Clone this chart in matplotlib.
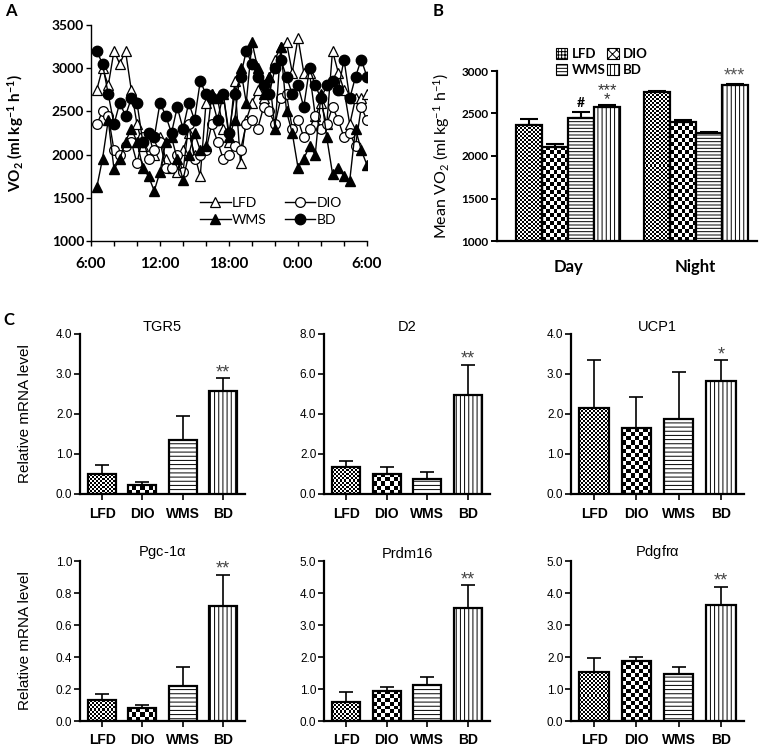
import numpy as np
import matplotlib
matplotlib.use('Agg')
import matplotlib.pyplot as plt
from matplotlib.patches import Patch
from matplotlib.lines import Line2D

plt.rcParams['mathtext.default'] = 'regular'
plt.rcParams['hatch.linewidth'] = 0.7

# ---------------- Panel A data (VO2 time course, hours after 6:00) ----------------
hours = np.arange(0.5, 24.01, 0.5)
vo2_lfd = [2750, 3000, 2800, 3200, 3050, 3200, 2750, 2350, 2100, 2250, 2000, 2200,
           1950, 1850, 1800, 2050, 2250, 2000, 1750, 2600, 2700, 2650, 2300, 2150,
           2850, 1900, 2400, 2600, 2750, 2650, 2900, 3100, 3250, 3300, 2950, 3350,
           2950, 2950, 2450, 2600, 2350, 3200, 2950, 2750, 2350, 2650, 2650, 2700]
vo2_dio = [2350, 2500, 2450, 2050, 2000, 2100, 2150, 1900, 2200, 1950, 2050, 2150,
           1850, 1850, 2000, 1800, 2350, 1950, 2000, 2050, 2350, 2150, 1950, 2000,
           2100, 2050, 2350, 2400, 2300, 2550, 2500, 2350, 2650, 2700, 2300, 2400,
           2200, 2300, 2450, 2300, 2350, 2550, 2400, 2200, 2250, 2100, 2550, 2400]
vo2_wms = [1620, 1950, 2400, 1830, 1950, 2150, 2300, 2150, 1850, 1750, 1580, 1800,
           2150, 2200, 1950, 1710, 2000, 2250, 2050, 2100, 2700, 2650, 2700, 2200,
           2400, 3000, 2600, 3300, 3000, 2700, 2900, 2300, 3250, 2500, 2250, 1850,
           1950, 2100, 2000, 2700, 2200, 1780, 1850, 1750, 1700, 2300, 2050, 1880]
vo2_bd = [3200, 3050, 2700, 2350, 2600, 2450, 2650, 2600, 2150, 2250, 2200, 2600,
          2450, 2250, 2550, 2300, 2600, 2400, 2850, 2700, 2650, 2400, 2700, 2250,
          2700, 2900, 3200, 3050, 2900, 2800, 2700, 3000, 3100, 2900, 2700, 2800,
          2550, 3000, 2800, 2650, 2800, 2850, 2750, 3100, 2650, 2900, 3100, 2900]
time_tick_hours = [0, 6, 12, 18, 24]
time_tick_labels = ['6:00', '12:00', '18:00', '0:00', '6:00']

# ---------------- Panel B data ----------------
groups = ['LFD', 'DIO', 'WMS', 'BD']
periods = ['Day', 'Night']
mean_day = [2360, 2110, 2450, 2580]
sem_day = [70, 30, 70, 25]
mean_night = [2750, 2400, 2275, 2830]
sem_night = [15, 20, 10, 15]

# ---------------- Panel C data ----------------
genes = ['TGR5', 'D2', 'UCP1', 'Pgc-1$\\alpha$', 'Prdm16', 'Pdgfr$\\alpha$']
tgr5_mean = [0.50, 0.22, 1.35, 2.58]
tgr5_sem = [0.22, 0.07, 0.61, 0.31]
d2_mean = [1.34, 1.01, 0.73, 4.95]
d2_sem = [0.33, 0.33, 0.36, 1.52]
ucp1_mean = [2.14, 1.65, 1.88, 2.82]
ucp1_sem = [1.21, 0.78, 1.17, 0.52]
pgc_mean = [0.13, 0.081, 0.218, 0.72]
pgc_sem = [0.036, 0.017, 0.122, 0.193]
prdm_mean = [0.59, 0.95, 1.14, 3.54]
prdm_sem = [0.33, 0.10, 0.22, 0.70]
pdgf_mean = [1.52, 1.87, 1.48, 3.64]
pdgf_sem = [0.45, 0.13, 0.20, 0.55]
gene_ymax = [4.0, 8.0, 4.0, 1.0, 5.0, 5.0]
gene_ystep = [1.0, 2.0, 1.0, 0.2, 1.0, 1.0]
gene_stars = ['**', '**', '*', '**', '**', '**']

W, H = 760, 746
fig = plt.figure(figsize=(W / 100, H / 100), dpi=100)

FA = 'Lato'
FC = 'Liberation Sans'


def px_axes(l, t, r, b):
    return fig.add_axes([l / W, 1 - b / H, (r - l) / W, (b - t) / H])


def texture(ax, bar, cell):
    x0, y0 = bar.get_x(), bar.get_y()
    w, h = bar.get_width(), bar.get_height()
    p0 = ax.transData.transform((x0, y0))
    p1 = ax.transData.transform((x0 + w, y0 + h))
    nx = max(1, int(round(abs(p1[0] - p0[0]) / cell)))
    ny = max(1, int(round(abs(p1[1] - p0[1]) / cell)))
    img = np.indices((ny, nx)).sum(axis=0) % 2
    im = ax.imshow(img, extent=(x0, x0 + w, y0, y0 + h), cmap='gray',
                   interpolation='nearest', aspect='auto', origin='lower',
                   vmin=0, vmax=1, zorder=2.5)
    im.set_clip_path(bar)


def style_bars(ax, bars, cells, hatches, lw):
    for k, b in enumerate(bars):
        b.set_facecolor('white')
        if cells[k]:
            texture(ax, b, cells[k])
            b.set_facecolor('none')
        else:
            b.set_hatch(hatches[k])
        b.set_edgecolor('black')
        b.set_linewidth(lw)
        b.set_zorder(3)


# ====================== Panel A ======================
axA = px_axes(91, 25, 367, 241)
lA1, = axA.plot(hours, vo2_lfd, '-^', color='black', mfc='white', mec='black', ms=7, lw=1, mew=0.9)
lA2, = axA.plot(hours, vo2_dio, '-o', color='black', mfc='white', mec='black', ms=7, lw=1, mew=0.9)
lA3, = axA.plot(hours, vo2_wms, '-^', color='black', mfc='black', ms=7, lw=1)
lA4, = axA.plot(hours, vo2_bd, '-o', color='black', mfc='black', ms=7.5, lw=1)
axA.set_xlim(0, 24)
axA.set_ylim(1000, 3500)
axA.set_yticks(np.arange(1000, 3501, 500))
axA.set_xticks(np.arange(0, 24.1, 2))
axA.set_xticklabels([time_tick_labels[time_tick_hours.index(t)] if t in time_tick_hours else ''
                     for t in np.arange(0, 24.1, 2)])
for s in ['top', 'right']:
    axA.spines[s].set_visible(False)
for s in ['left', 'bottom']:
    axA.spines[s].set_linewidth(1.0)
axA.tick_params(axis='both', direction='out', length=3.5, width=1.0)
axA.tick_params(axis='x', pad=8)
axA.tick_params(axis='y', pad=1.5)
for t in axA.get_xticklabels():
    t.set_fontfamily(FA); t.set_fontweight('bold'); t.set_fontsize(11)
for t in axA.get_yticklabels():
    t.set_fontfamily(FA); t.set_fontweight('bold'); t.set_fontsize(10)
axA.set_ylabel('VO$_2$ (ml kg$^{-1}$ h$^{-1}$)', fontfamily=FA, fontweight='bold', fontsize=11)
axA.yaxis.set_label_coords(-0.235, 0.5)
axA.legend([lA1, lA3, lA2, lA4], ['LFD', 'WMS', 'DIO', 'BD'], ncol=2, loc='upper left',
           bbox_to_anchor=(0.37, 0.235), frameon=False,
           prop={'family': FA, 'size': 10}, handlelength=2.2, handletextpad=0.1,
           columnspacing=1.3, labelspacing=0.35, borderpad=0)

# ====================== Panel B ======================
axB = px_axes(497, 71, 757, 241)
axB.set_xlim(-0.557, 1.48)
axB.set_ylim(1000, 3000)
bw = 0.204
offs = [-1.5 * bw, -0.5 * bw, 0.5 * bw, 1.5 * bw]
cellsB = [2, 4, 0, 0]
hatchB = [None, None, '-----', '||||']
legend_hatch = ['+++++', 'xxxx', '-----', '||||']
for gi in range(4):
    xs = [pi + offs[gi] for pi in range(2)]
    vals = [mean_day[gi], mean_night[gi]]
    errs = [sem_day[gi], sem_night[gi]]
    bars = axB.bar(xs, [v - 1000 for v in vals], width=bw, bottom=1000, align='center')
    style_bars(axB, bars, [cellsB[gi]] * 2, [hatchB[gi]] * 2, 1.6)
    axB.errorbar(xs, vals, yerr=[[0, 0], errs], fmt='none', ecolor='black',
                 elinewidth=1.5, capsize=6.5, capthick=1.5, zorder=4)
axB.set_xticks([0, 1])
axB.set_xticklabels(periods, fontfamily=FA, fontweight='bold', fontsize=12)
axB.set_yticks(np.arange(1000, 3001, 500))
for t in axB.get_yticklabels():
    t.set_fontfamily(FA); t.set_fontweight('bold'); t.set_fontsize(8.5)
for s in ['top', 'right']:
    axB.spines[s].set_visible(False)
for s in ['left', 'bottom']:
    axB.spines[s].set_linewidth(1.6)
axB.tick_params(axis='x', length=0, pad=13)
axB.tick_params(axis='y', direction='out', length=4, width=1.4, pad=2)
axB.set_ylabel('Mean VO$_2$ (ml kg$^{-1}$ h$^{-1}$)', fontfamily=FA, fontsize=11.5)
axB.yaxis.set_label_coords(-0.173, 0.5)
# significance marks
axB.annotate('#', (offs[2], mean_day[2] + sem_day[2]), xytext=(0, 2), textcoords='offset points',
             ha='center', va='bottom', fontsize=10, fontfamily=FA, fontweight='bold', annotation_clip=False)
axB.annotate('***\n*', (offs[3], mean_day[3] + sem_day[3]), xytext=(0, -2), textcoords='offset points',
             ha='center', va='bottom', fontsize=12, fontfamily=FC, color='#333333',
             linespacing=0.5, annotation_clip=False)
axB.annotate('***', (1 + offs[3], mean_night[3] + sem_night[3]), xytext=(0, 6), textcoords='offset points',
             ha='center', va='center', fontsize=13, fontfamily=FC, color='#555555', annotation_clip=False)
handlesB = [Patch(facecolor='white', edgecolor='black', hatch=legend_hatch[k], linewidth=0.8)
            for k in range(4)]
order = [0, 2, 1, 3]
axB.legend([handlesB[k] for k in order], [groups[k] for k in order], ncol=2, loc='lower left',
           bbox_to_anchor=(0.2, 0.93), frameon=False,
           prop={'family': FA, 'weight': 'bold', 'size': 9.5}, handlelength=0.9, handleheight=0.9,
           handletextpad=0.3, columnspacing=0.1, labelspacing=0.3, borderpad=0)

# ====================== Panel C ======================
col_lr = [(80, 245), (324, 490), (571, 744)]
row_tb = [(334, 494), (561, 721)]
means = [tgr5_mean, d2_mean, ucp1_mean, pgc_mean, prdm_mean, pdgf_mean]
sems = [tgr5_sem, d2_sem, ucp1_sem, pgc_sem, prdm_sem, pdgf_sem]
cellsC = [2, 4, 0, 0]
hatchC = [None, None, '----', '||||']
xC = np.arange(4)
for i in range(6):
    r, c = divmod(i, 3)
    ax = px_axes(col_lr[c][0], row_tb[r][0], col_lr[c][1], row_tb[r][1])
    ax.set_xlim(-0.55, 3.55)
    ax.set_ylim(0, gene_ymax[i])
    bars = ax.bar(xC, means[i], width=0.7)
    style_bars(ax, bars, cellsC, hatchC, 1.6)
    ax.errorbar(xC, means[i], yerr=[[0] * 4, sems[i]], fmt='none', ecolor='black',
                elinewidth=1.2, capsize=5, capthick=1.2, zorder=4)
    top = means[i][3] + sems[i][3]
    ax.annotate(gene_stars[i], (3, top), xytext=(0, 4), textcoords='offset points',
                ha='center', va='center', fontsize=13, fontfamily=FC, color='#444444',
                annotation_clip=False)
    ticks = np.arange(0, gene_ymax[i] + 1e-9, gene_ystep[i])
    ax.set_yticks(ticks)
    ax.set_yticklabels(['%.1f' % v for v in ticks], fontfamily=FC, fontsize=8.5)
    ax.set_xticks(xC)
    ax.set_xticklabels(groups, fontfamily=FC, fontweight='bold', fontsize=10)
    for s in ['top', 'right']:
        ax.spines[s].set_visible(False)
    for s in ['left', 'bottom']:
        ax.spines[s].set_linewidth(1.6)
    ax.tick_params(axis='both', direction='out', length=4, width=1.2)
    ax.tick_params(axis='x', pad=5)
    ax.tick_params(axis='y', pad=1.5)
    ax.set_title(genes[i], fontfamily=FC, fontsize=10.5, pad=1)
    if c == 0:
        ax.set_ylabel('Relative mRNA level', fontfamily=FC, fontsize=11)
        ax.yaxis.set_label_coords(-0.29, 0.5)

# panel letters
fig.text(5 / W, 1 - 3 / H, 'A', fontfamily=FA, fontweight='bold', fontsize=12, va='top', ha='left')
fig.text(433 / W, 1 - 3 / H, 'B', fontfamily=FA, fontweight='bold', fontsize=12, va='top', ha='left')
fig.text(3 / W, 1 - 312 / H, 'C', fontfamily=FA, fontweight='bold', fontsize=12, va='top', ha='left')

fig.savefig('out.png', dpi=100)
